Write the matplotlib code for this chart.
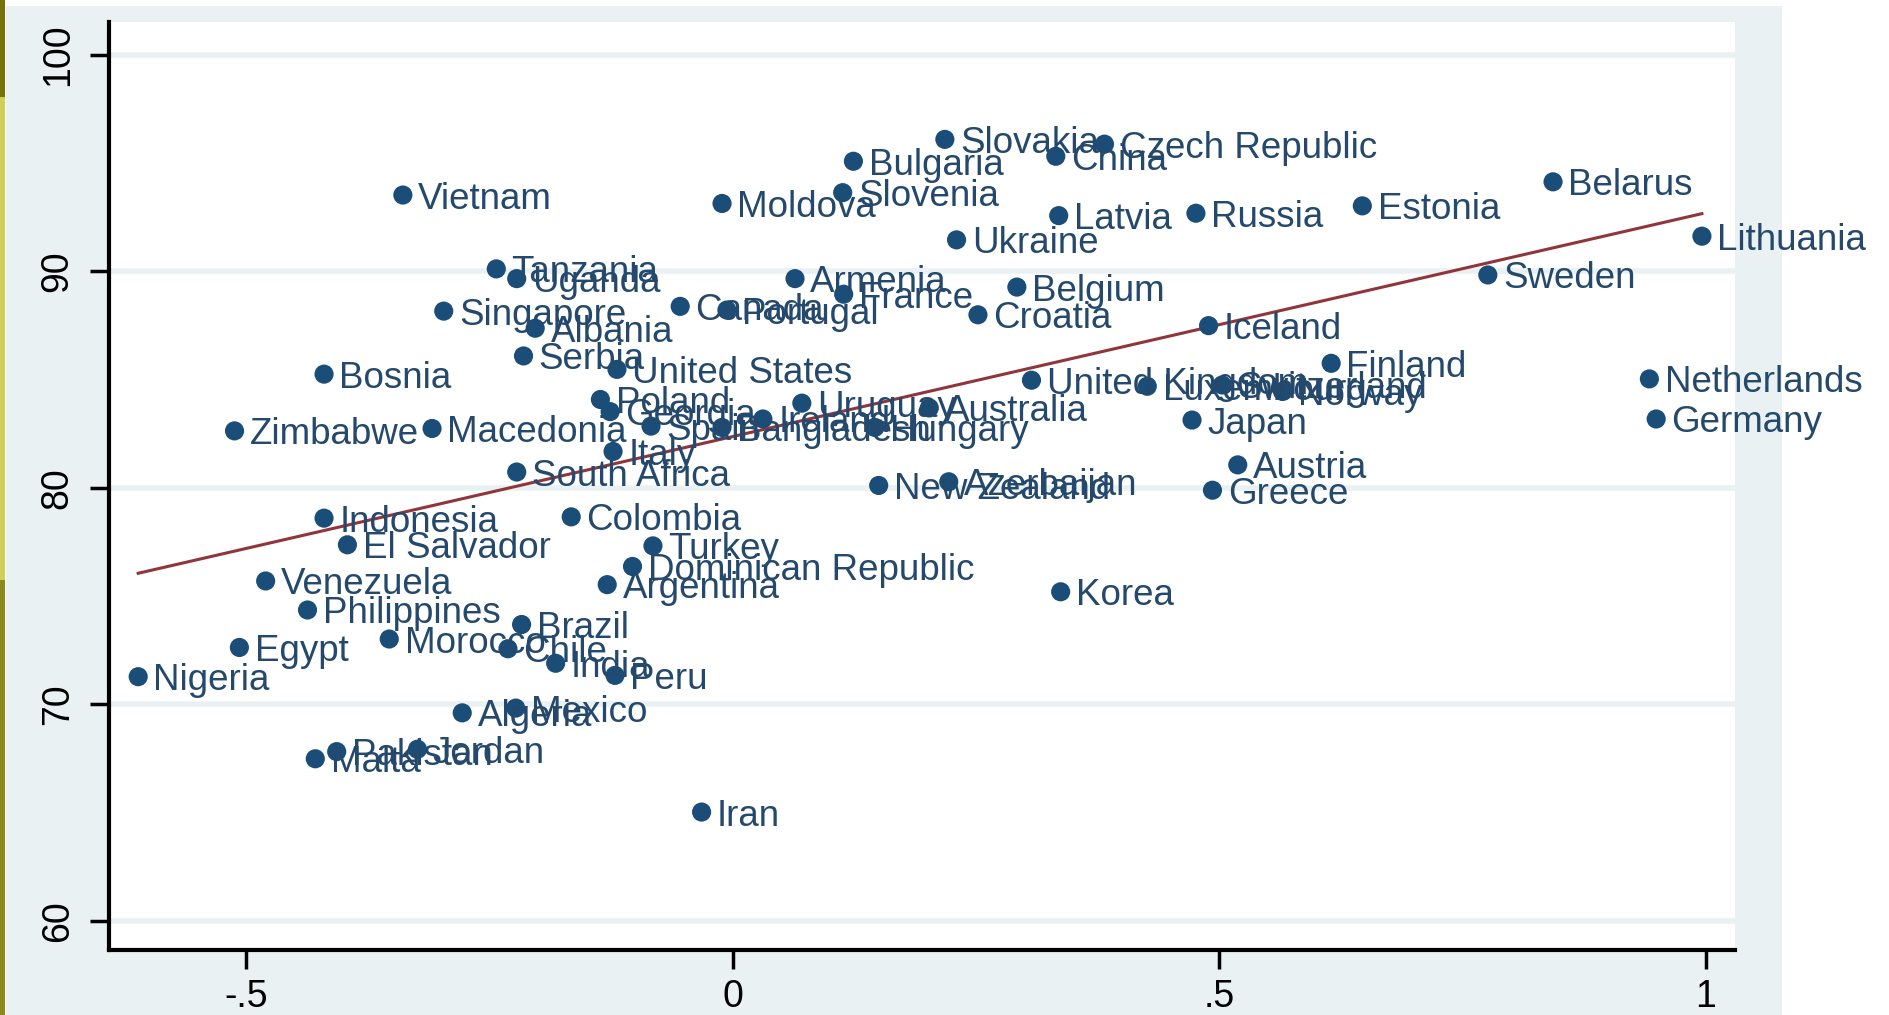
import numpy as np
import matplotlib
matplotlib.use("Agg")
import matplotlib.pyplot as plt
from matplotlib.patches import Rectangle

# values
countries = ["Slovakia", "Czech Republic", "China", "Bulgaria", "Vietnam", "Slovenia",
             "Moldova", "Latvia", "Russia", "Estonia", "Belarus", "Lithuania", "Ukraine",
             "Sweden", "Tanzania", "Uganda", "Armenia", "France", "Belgium", "Singapore",
             "Canada", "Portugal", "Croatia", "Iceland", "Albania", "Serbia",
             "United States", "Bosnia", "Finland", "United Kingdom", "Luxembourg",
             "Switzerland", "Norway", "Netherlands", "Germany", "Japan", "Austria",
             "Greece", "Poland", "Georgia", "Spain", "Bangladesh", "Ireland", "Uruguay",
             "Hungary", "Australia", "Italy", "South Africa", "Macedonia", "Zimbabwe",
             "New Zealand", "Azerbaijan", "Colombia", "Indonesia", "El Salvador", "Turkey",
             "Dominican Republic", "Argentina", "Venezuela", "Philippines", "Brazil",
             "Morocco", "Egypt", "Chile", "India", "Peru", "Nigeria", "Algeria", "Mexico",
             "Malta", "Pakistan", "Jordan", "Iran", "Korea"]
rule_of_law = [0.218, 0.382, 0.332, 0.124, -0.339, 0.113,
               -0.011, 0.335, 0.476, 0.647, 0.843, 0.996, 0.230,
               0.776, -0.243, -0.222, 0.064, 0.114, 0.292, -0.297,
               -0.054, -0.006, 0.252, 0.489, -0.203, -0.215,
               -0.119, -0.420, 0.615, 0.307, 0.426,
               0.503, 0.565, 0.942, 0.949, 0.472, 0.519,
               0.493, -0.136, -0.126, -0.084, -0.011, 0.031, 0.071,
               0.146, 0.202, -0.123, -0.222, -0.309, -0.512,
               0.150, 0.222, -0.166, -0.420, -0.396, -0.082,
               -0.103, -0.129, -0.480, -0.437, -0.217,
               -0.353, -0.507, -0.231, -0.182, -0.121, -0.611, -0.278, -0.223,
               -0.429, -0.407, -0.324, -0.032, 0.337]
score = [96.09, 95.87, 95.31, 95.08, 93.52, 93.63,
         93.13, 92.57, 92.68, 93.02, 94.13, 91.62, 91.45,
         89.83, 90.11, 89.66, 89.66, 88.94, 89.27, 88.16,
         88.38, 88.21, 87.99, 87.49, 87.37, 86.09,
         85.47, 85.25, 85.75, 84.97, 84.69,
         84.75, 84.45, 85.03, 83.18, 83.13, 81.06,
         79.89, 84.08, 83.52, 82.85, 82.79, 83.18, 83.91,
         82.79, 83.69, 81.68, 80.73, 82.74, 82.63,
         80.11, 80.28, 78.66, 78.60, 77.37, 77.32,
         76.37, 75.53, 75.70, 74.36, 73.69,
         73.02, 72.63, 72.57, 71.90, 71.34, 71.28, 69.61, 69.83,
         67.49, 67.82, 67.93, 65.03, 75.20]

xticks = [-0.5, 0, 0.5, 1]
xtick_labels = ["-.5", "0", ".5", "1"]
yticks = [60, 70, 80, 90, 100]

navy = "#1a4d78"
maroon = "#90353b"

plt.rcParams['font.family'] = ['Liberation Sans', 'DejaVu Sans']

W, H = 1889, 1015
fig = plt.figure(figsize=(W / 100, H / 100), dpi=100)
fig.patch.set_facecolor("white")

# graph region background + slide edge strip
fig.patches.append(Rectangle((6 / W, 0), (1782 - 6) / W, 1 - 6 / H, transform=fig.transFigure,
                             facecolor="#e9f1f3", edgecolor="none", zorder=-10))
fig.patches.append(Rectangle((0, 1 - 97 / H), 5 / W, 97 / H, transform=fig.transFigure,
                             facecolor="#74740a", edgecolor="none", zorder=-9))
fig.patches.append(Rectangle((0, 1 - 580 / H), 5 / W, (580 - 97) / H, transform=fig.transFigure,
                             facecolor="#cfcf5a", edgecolor="none", zorder=-9))
fig.patches.append(Rectangle((0, 0), 5 / W, 1 - 580 / H, transform=fig.transFigure,
                             facecolor="#8a8a1c", edgecolor="none", zorder=-9))

ax = fig.add_axes([109 / W, 1 - 950 / H, (1735 - 109) / W, (950 - 22) / H])
ax.set_facecolor("white")

for yv in yticks:
    ax.axhline(yv, color="#eaf1f3", lw=4, zorder=0)

x = np.array(rule_of_law)
y = np.array(score)
b, a = np.polyfit(x, y, 1)
xs = np.array([x.min(), x.max()])
ax.plot(xs, a + b * xs, color=maroon, lw=2.2, zorder=3)

ax.scatter(x, y, s=190, color=navy, edgecolors="none", zorder=4)
for name, xv, yv in zip(countries, rule_of_law, score):
    ax.annotate(name, (xv, yv), xytext=(11, 0), textcoords="offset points",
                va="center_baseline", ha="left", fontsize=26.5, color="#24496c", zorder=5)

ax.set_xlim(-0.641, 1.030)
ax.set_ylim(58.66, 101.51)
ax.set_xticks(xticks)
ax.set_xticklabels(xtick_labels)
ax.set_yticks(yticks)
ax.set_yticklabels([str(v) for v in yticks], rotation=90, va="center")
ax.tick_params(axis="both", labelsize=27, length=14, width=2.5, direction="out", color="black")
ax.tick_params(axis="x", pad=7)
ax.tick_params(axis="y", pad=10)

for s in ["top", "right"]:
    ax.spines[s].set_visible(False)
for s in ["left", "bottom"]:
    ax.spines[s].set_linewidth(3)
    ax.spines[s].set_color("black")

fig.savefig("out.png", dpi=100)
